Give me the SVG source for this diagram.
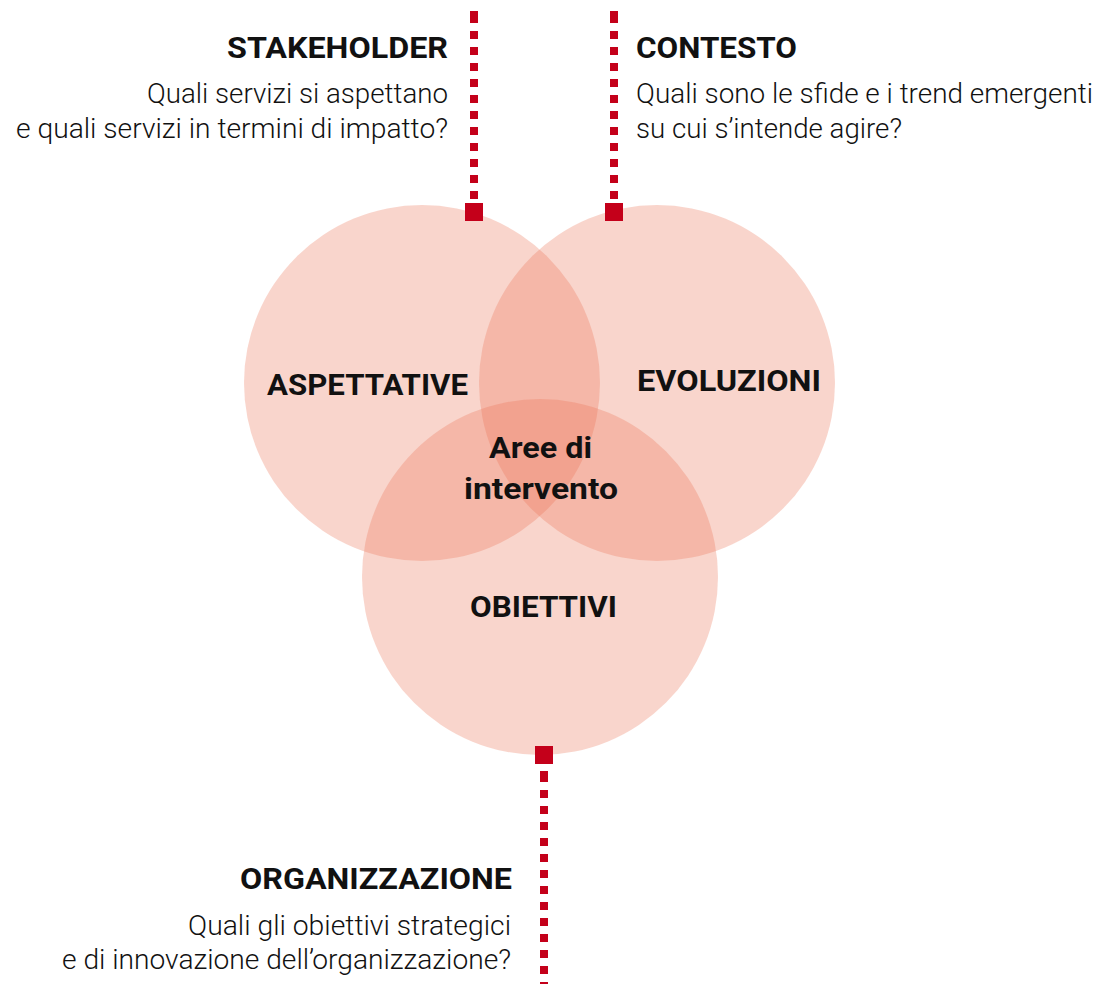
<svg xmlns="http://www.w3.org/2000/svg" width="1101" height="984" viewBox="0 0 1101 984">
<style>
.c{fill:#eb7555;fill-opacity:0.3}
.dot{stroke:#c4001a;stroke-width:8;stroke-dasharray:8 8;fill:none}
.sq{fill:#c4001a}
.t{font-family:Roboto,"Liberation Sans",sans-serif;font-weight:700;font-size:30px;fill:#111}
.b{font-family:Roboto,"Liberation Sans",sans-serif;font-weight:300;font-size:28px;fill:#111}
.l{font-family:Roboto,"Liberation Sans",sans-serif;font-weight:700;font-size:30px;fill:#111}
</style>
<rect width="1101" height="984" fill="#fff"/>
<g id="circles">
<circle id="c-aspettative" class="c" cx="422" cy="383" r="178"/>
<circle id="c-evoluzioni" class="c" cx="657" cy="383" r="178"/>
<circle id="c-obiettivi" class="c" cx="540" cy="577" r="178"/>
</g>
<g id="connectors">
<rect class="sq" x="470" y="11" width="8" height="12"/>
<line class="dot" x1="474" y1="31" x2="474" y2="200"/>
<rect class="sq" x="610" y="11" width="8" height="12"/>
<line class="dot" x1="614" y1="31" x2="614" y2="200"/>
<rect class="sq" x="540" y="771" width="8" height="11"/>
<line class="dot" x1="544" y1="790" x2="544" y2="984"/>
</g>
<g id="anchors">
<rect class="sq" x="465" y="203" width="18" height="18"/>
<rect class="sq" x="605" y="203" width="18" height="18"/>
<rect class="sq" x="535" y="746" width="18" height="18"/>
</g>
<g id="stakeholder">
<text class="t" x="227" y="58" textLength="221" lengthAdjust="spacingAndGlyphs">STAKEHOLDER</text>
<text class="b" x="147" y="103" textLength="301" lengthAdjust="spacingAndGlyphs">Quali servizi si aspettano</text>
<text class="b" x="16" y="138" textLength="432" lengthAdjust="spacingAndGlyphs">e quali servizi in termini di impatto?</text>
</g>
<g id="contesto">
<text class="t" x="636" y="58" textLength="161" lengthAdjust="spacingAndGlyphs">CONTESTO</text>
<text class="b" x="636" y="103" textLength="457" lengthAdjust="spacingAndGlyphs">Quali sono le sfide e i trend emergenti</text>
<text class="b" x="636" y="138" textLength="266" lengthAdjust="spacingAndGlyphs">su cui s’intende agire?</text>
</g>
<g id="organizzazione">
<text class="t" x="240" y="889" textLength="272" lengthAdjust="spacingAndGlyphs">ORGANIZZAZIONE</text>
<text class="b" x="188" y="935" textLength="323" lengthAdjust="spacingAndGlyphs">Quali gli obiettivi strategici</text>
<text class="b" x="62" y="969" textLength="449" lengthAdjust="spacingAndGlyphs">e di innovazione dell’organizzazione?</text>
</g>
<g id="aspettative">
<text class="l" x="267" y="395" textLength="201" lengthAdjust="spacingAndGlyphs">ASPETTATIVE</text>
</g>
<g id="evoluzioni">
<text class="l" x="637" y="391" textLength="184" lengthAdjust="spacingAndGlyphs">EVOLUZIONI</text>
</g>
<g id="aree">
<text class="l" x="489" y="458" textLength="103" lengthAdjust="spacingAndGlyphs">Aree di</text>
<text class="l" x="464" y="499" textLength="154" lengthAdjust="spacingAndGlyphs">intervento</text>
</g>
<g id="obiettivi">
<text class="l" x="470" y="617" textLength="147" lengthAdjust="spacingAndGlyphs">OBIETTIVI</text>
</g>
</svg>
